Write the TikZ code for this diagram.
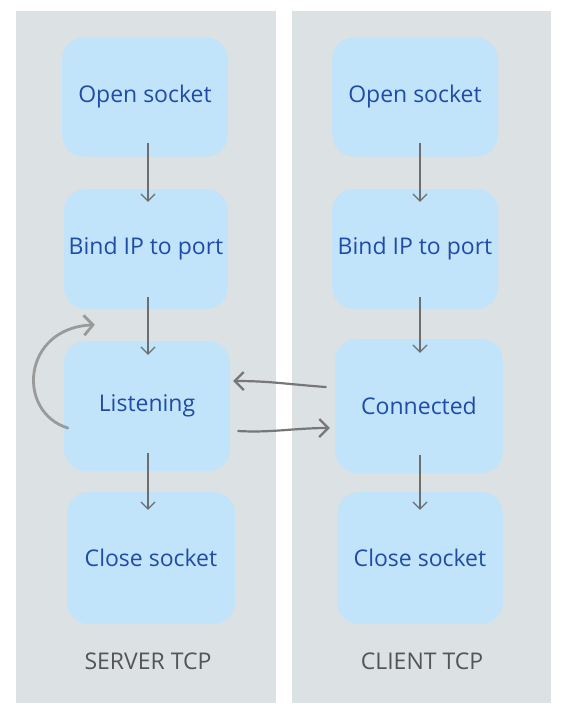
\documentclass[tikz,border=0pt]{standalone}
\usepackage{fontspec}
\setmainfont{Open Sans}
\usetikzlibrary{arrows.meta}
\definecolor{panel}{HTML}{DCE1E3}
\definecolor{boxblue}{HTML}{C2E4FA}
\definecolor{txtblue}{HTML}{1F4CA6}
\definecolor{arrgray}{HTML}{6E6E6E}
\definecolor{hgray}{HTML}{777777}
\definecolor{loopgray}{HTML}{9A9A9A}
\definecolor{lblgray}{HTML}{555555}
\tikzset{
  panelbox/.style={fill=panel, draw=none},
  stepbox/.style={fill=boxblue, draw=none, rounded corners=22pt, inner sep=0pt,
    text=txtblue, font=\fontsize{23}{27}\selectfont},
  vert/.style={draw=arrgray, line width=1.2pt, -{Straight Barb[length=7pt,width=14pt]}},
  horiz/.style={draw=hgray, line width=2.2pt, line cap=round, -{Straight Barb[length=9pt,width=18pt,line width=2.2pt]}},
  loopy/.style={draw=loopgray, line width=2.8pt, line cap=round, -{Straight Barb[length=9pt,width=20pt,line width=2.8pt]}},
  lbl/.style={text=lblgray, font=\fontsize{23}{27}\selectfont, inner sep=0pt}
}
\begin{document}
\begin{tikzpicture}[x=1pt,y=-1pt]
\useasboundingbox[fill=white] (0,0) rectangle (568,716);
\fill[panelbox] (16,11) rectangle (276,703);
\fill[panelbox] (292,11) rectangle (551,703);

\node[stepbox, minimum width=166pt, minimum height=119pt] (s1) at (145,97) {Open socket};
\node[stepbox, minimum width=164pt, minimum height=120pt] (s2) at (146,249) {Bind IP to port};
\node[stepbox, minimum width=166pt, minimum height=130pt] (s3) at (147,406) {Listening};
\node[stepbox, minimum width=168pt, minimum height=132pt] (s4) at (151,558) {Close socket};

\node[stepbox, minimum width=166pt, minimum height=119pt] (c1) at (415,97) {Open socket};
\node[stepbox, minimum width=166pt, minimum height=120pt] (c2) at (415,249) {Bind IP to port};
\node[stepbox, minimum width=168pt, minimum height=134pt] (c3) at (419,406) {Connected};
\node[stepbox, minimum width=166pt, minimum height=132pt] (c4) at (420,558) {Close socket};

\node[lbl] (ls) at (148,661) {SERVER TCP};
\node[lbl] (lc) at (422,661) {CLIENT TCP};

\draw[vert] ([shift={(3pt,14pt)}]s1.south) -- ([shift={(2pt,-13pt)}]s2.north);
\draw[vert] ([shift={(2pt,12pt)}]s2.south) -- ([shift={(1pt,-14pt)}]s3.north);
\draw[vert] ([shift={(1pt,18pt)}]s3.south) -- ([shift={(-3pt,-18pt)}]s4.north);

\draw[vert] ([shift={(5pt,14pt)}]c1.south) -- ([shift={(5pt,-13pt)}]c2.north);
\draw[vert] ([shift={(5pt,12pt)}]c2.south) -- ([shift={(1pt,-14pt)}]c3.north);
\draw[vert] ([shift={(1pt,18pt)}]c3.south) -- ([shift={(0pt,-18pt)}]c4.north);

\draw[horiz] ([shift={(-9pt,19pt)}]c3.west) .. controls ([shift={(-50pt,22pt)}]c3.west) and ([shift={(40pt,25pt)}]s3.east) .. ([shift={(3pt,25pt)}]s3.east);
\draw[horiz] ([shift={(8pt,-25pt)}]s3.east) .. controls ([shift={(40pt,-27pt)}]s3.east) and ([shift={(-40pt,-22pt)}]c3.west) .. ([shift={(-5pt,-22pt)}]c3.west);

\coordinate (lpend) at ([shift={(31pt,16pt)}]s3.north west);
\draw[loopy] ([shift={(4pt,-22pt)}]s3.west) .. controls (16,412) and (22,328) .. (lpend);
\end{tikzpicture}
\end{document}
